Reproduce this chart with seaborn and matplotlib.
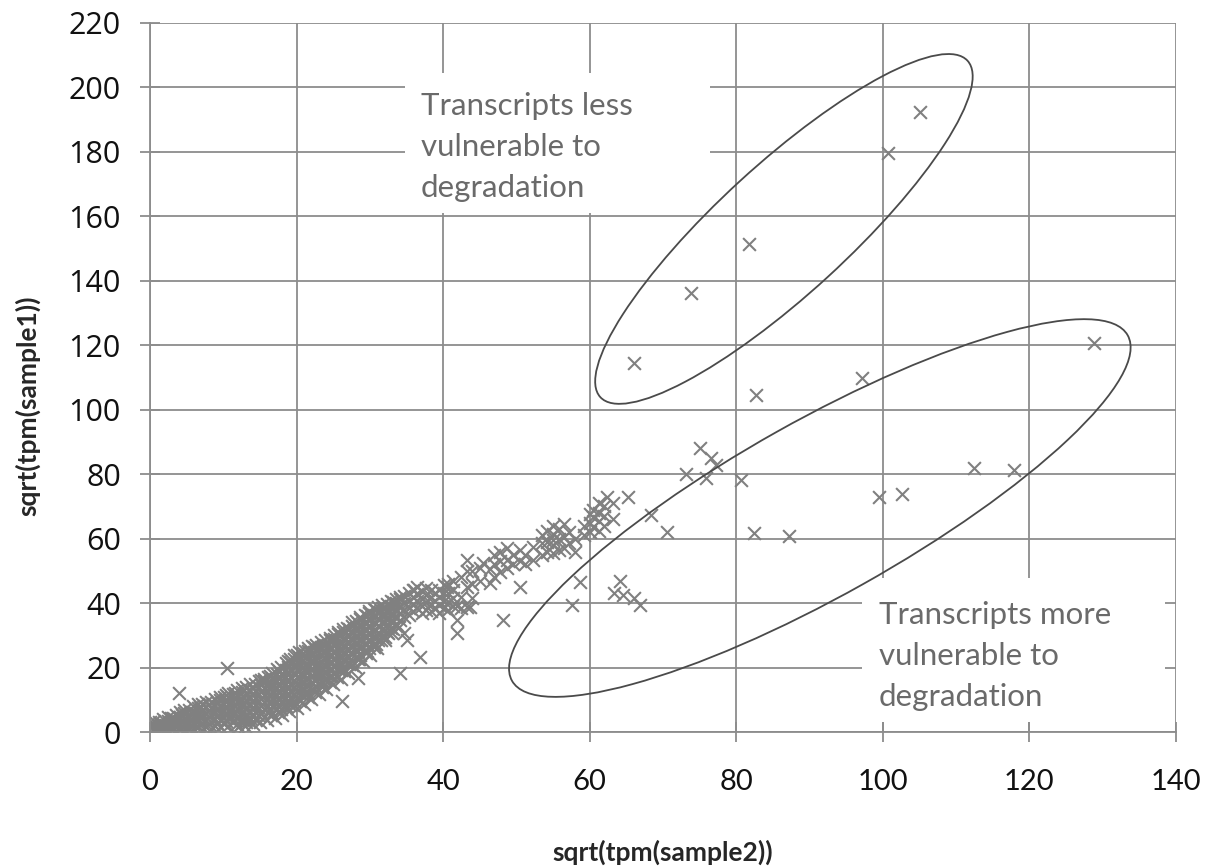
import numpy as np
import pandas as pd
import matplotlib
matplotlib.use('Agg')
from matplotlib import pyplot as plt
from matplotlib.patches import Ellipse, Rectangle
from matplotlib.transforms import ScaledTranslation
import seaborn as sns

# dense band of transcripts near the diagonal,
# one x position per column with the y values seen in that column
band_x = [0.0, 0.6, 1.2, 1.8, 2.4, 2.9, 3.5, 4.1, 4.7, 5.3, 5.9, 6.5, 7.1, 7.7, 8.3, 8.9,
          9.5, 10.1, 10.7, 11.3, 11.9, 12.5, 13.1, 13.7, 14.3, 14.9, 15.5, 16.1, 16.7, 17.3,
          17.9, 18.5, 19.1, 19.7, 20.3, 20.9, 21.5, 22.1, 22.7, 23.3, 23.9, 24.5, 25.1, 25.7,
          26.3, 26.9, 27.5, 28.1, 28.7, 29.3, 29.9, 30.5, 31.1, 31.7, 32.3, 32.9, 33.5, 34.1,
          34.7, 35.3, 35.9, 36.5, 37.1, 37.7, 38.3, 38.9, 39.5, 40.1, 40.7, 41.3]
band_y = [
    [0.0, 1.5, 3.0], [0.8, 2.3, 3.4], [0.0, 1.6, 3.2], [0.9, 2.5, 4.0],
    [0.2, 1.8, 3.4, 4.8], [1.0, 2.7, 4.3], [0.3, 2.0, 3.7, 5.4], [1.1, 2.9, 4.7, 6.3],
    [0.4, 2.2, 4.0, 5.8, 6.9], [1.2, 3.1, 5.0, 6.9], [0.5, 2.4, 4.3, 6.2, 8.0],
    [1.4, 3.4, 5.4, 7.4, 8.6], [0.7, 2.7, 4.7, 6.7, 8.7], [1.6, 3.7, 5.8, 7.9, 9.4],
    [1.0, 3.1, 5.2, 7.3, 9.4], [2.0, 4.1, 6.2, 8.3, 10.2], [1.5, 3.6, 5.7, 7.8, 9.9, 11.0],
    [2.5, 4.6, 6.7, 8.8, 10.9], [2.0, 4.2, 6.4, 8.6, 10.8, 12.2], [3.0, 5.2, 7.4, 9.6, 11.8],
    [2.6, 4.8, 7.0, 9.2, 11.4, 13.0], [3.6, 5.8, 8.0, 10.2, 12.4, 13.6],
    [3.2, 5.4, 7.6, 9.8, 12.0, 14.0], [4.3, 6.5, 8.7, 10.9, 13.1, 14.8],
    [4.0, 6.2, 8.4, 10.6, 12.8, 15.0], [5.1, 7.3, 9.5, 11.7, 13.9, 15.8],
    [4.8, 7.0, 9.2, 11.4, 13.6, 15.8, 16.6], [6.0, 8.2, 10.4, 12.6, 14.8, 17.0],
    [5.8, 8.0, 10.2, 12.4, 14.6, 16.8, 18.2], [7.0, 9.2, 11.4, 13.6, 15.8, 18.0, 19.5],
    [7.0, 9.2, 11.4, 13.6, 15.8, 18.0, 20.2], [8.2, 10.4, 12.6, 14.8, 17.0, 19.2, 21.4],
    [8.4, 10.6, 12.8, 15.0, 17.2, 19.4, 21.6, 22.8], [9.6, 11.8, 14.0, 16.2, 18.4, 20.6, 22.8, 24.0],
    [10.0, 12.2, 14.4, 16.6, 18.8, 21.0, 23.2, 24.8], [11.4, 13.6, 15.8, 18.0, 20.2, 22.4, 24.6],
    [12.0, 14.2, 16.4, 18.6, 20.8, 23.0, 25.2, 26.0], [13.4, 15.6, 17.8, 20.0, 22.2, 24.4, 26.6],
    [14.0, 16.2, 18.4, 20.6, 22.8, 25.0, 27.0], [15.4, 17.6, 19.8, 22.0, 24.2, 26.4, 27.8],
    [16.0, 18.2, 20.4, 22.6, 24.8, 27.0, 28.4], [17.4, 19.6, 21.8, 24.0, 26.2, 28.4, 29.2],
    [18.0, 20.2, 22.4, 24.6, 26.8, 29.0, 30.2], [19.4, 21.6, 23.8, 26.0, 28.2, 30.4, 31.0],
    [20.0, 22.2, 24.4, 26.6, 28.8, 31.0, 32.0], [21.4, 23.6, 25.8, 28.0, 30.2, 32.4],
    [22.0, 24.2, 26.4, 28.6, 30.8, 33.0, 34.0], [23.4, 25.6, 27.8, 30.0, 32.2, 34.4],
    [24.0, 26.2, 28.4, 30.6, 32.8, 35.0, 35.8], [25.4, 27.6, 29.8, 32.0, 34.2, 36.4],
    [26.0, 28.2, 30.4, 32.6, 34.8, 37.0, 37.6], [27.4, 29.6, 31.8, 34.0, 36.2, 38.2],
    [28.4, 30.6, 32.8, 35.0, 37.2, 38.8], [29.8, 32.0, 34.2, 36.4, 38.6, 39.4],
    [31.0, 33.2, 35.4, 37.6, 39.8], [32.4, 34.6, 36.8, 39.0, 40.6],
    [33.4, 35.6, 37.8, 40.0, 41.2], [34.6, 36.8, 39.0, 41.2, 42.0],
    [35.6, 37.8, 40.0, 42.2], [36.4, 38.6, 40.8, 43.0], [37.6, 39.8, 42.0, 44.0],
    [38.4, 40.6, 42.8, 45.0], [37.0, 39.2, 41.4, 43.6], [38.0, 40.2, 42.4, 44.6],
    [37.4, 39.6, 41.8, 44.0], [38.6, 40.8, 43.0], [37.0, 39.4, 41.8, 44.2],
    [38.4, 40.8, 43.2, 45.6], [37.8, 40.4, 43.0, 46.0], [39.0, 41.6, 44.2, 47.0],
]

# second pass over the densest stretch, between the columns above
fill_x = [1.5, 3.2, 4.4, 5.6, 6.8, 8.0, 9.2, 10.4, 11.6, 12.8, 14.0, 15.2, 16.4, 17.6,
          18.8, 20.0, 21.2, 22.4, 23.6, 24.8, 26.0, 27.2, 28.4, 29.6, 30.8, 32.0, 33.2]
fill_y = [
    [1.0, 2.6], [1.2, 2.9, 4.4], [1.6, 3.4, 5.2], [1.8, 3.8, 5.8], [2.1, 4.2, 6.3, 7.8],
    [2.4, 4.6, 6.8, 8.6], [2.8, 5.0, 7.2, 9.4], [3.4, 5.6, 7.8, 10.0, 11.4],
    [3.8, 6.0, 8.2, 10.4, 12.2], [4.4, 6.6, 8.8, 11.0, 13.0], [5.0, 7.2, 9.4, 11.6, 13.8],
    [5.8, 8.0, 10.2, 12.4, 14.6, 16.0], [6.8, 9.0, 11.2, 13.4, 15.6, 17.4],
    [7.8, 10.0, 12.2, 14.4, 16.6, 18.8], [9.2, 11.4, 13.6, 15.8, 18.0, 20.2, 22.0],
    [10.6, 12.8, 15.0, 17.2, 19.4, 21.6, 23.8], [12.2, 14.4, 16.6, 18.8, 21.0, 23.2, 25.0],
    [13.8, 16.0, 18.2, 20.4, 22.6, 24.8, 26.4], [15.6, 17.8, 20.0, 22.2, 24.4, 26.6],
    [17.4, 19.6, 21.8, 24.0, 26.2, 28.4], [19.2, 21.4, 23.6, 25.8, 28.0, 30.2],
    [21.0, 23.2, 25.4, 27.6, 29.8, 32.0], [22.8, 25.0, 27.2, 29.4, 31.6, 33.8],
    [25.0, 27.2, 29.4, 31.6, 33.8, 36.0], [27.2, 29.4, 31.6, 33.8, 36.0, 37.8],
    [29.6, 31.8, 34.0, 36.2, 38.4], [32.0, 34.2, 36.4, 38.6, 40.2],
]

# lower rim of the band, which hangs a little lower than the columns above
rim_x = [12.0, 12.5, 13.0, 13.5, 14.0, 14.5, 15.0, 15.5, 16.0, 16.5, 17.0, 17.5, 18.0, 18.5,
         19.0, 19.5, 20.0, 20.5, 21.0, 21.5, 22.0, 22.5, 23.0, 23.5, 24.0, 24.5, 25.0, 25.5,
         26.0, 26.5, 27.0, 27.5, 28.0, 28.5, 29.0, 29.5, 30.0, 30.5, 31.0, 31.5, 32.0, 32.5,
         33.0, 33.5, 34.0]
rim_y = [1.5, 2.9, 2.0, 3.5, 2.6, 4.0, 3.0, 4.6, 3.6, 5.4, 4.4, 6.3, 5.4, 7.3,
         6.4, 8.4, 7.4, 9.6, 8.8, 11.0, 10.2, 12.4, 11.8, 14.0, 13.4, 15.6, 15.0, 17.2,
         16.6, 18.9, 18.4, 20.7, 20.2, 22.5, 22.0, 24.4, 24.0, 26.4, 26.0, 28.6, 28.4, 30.8,
         30.6, 32.8, 32.6]

# single points sticking out above the band
spike_pts = [(4.0, 12.0), (10.5, 20.0), (36.0, 44.0), (40.5, 45.0)]

# sparser tail of the band and its clusters
tail_pts = [
    (41.9, 30.6), (41.9, 34.7), (41.9, 39.0), (42.5, 38.5), (42.5, 42.0), (42.5, 48.0),
    (43.2, 38.8), (43.2, 45.0), (43.2, 50.0), (43.2, 53.4), (43.7, 38.8), (44.0, 41.5), (44.0, 46.0), (44.0, 50.0),
    (45.0, 47.0), (45.0, 51.0), (45.5, 52.4), (46.4, 46.2), (46.4, 50.5),
    (47.0, 48.0), (47.0, 52.0), (47.0, 55.0), (47.8, 49.5), (47.8, 53.0), (47.8, 56.0),
    (48.7, 51.0), (48.7, 53.4), (48.7, 57.0), (49.5, 52.0), (49.5, 55.0),
    (50.5, 53.0), (50.5, 56.5), (51.2, 52.0), (51.2, 55.0), (52.3, 53.4), (52.3, 57.5),
    (53.5, 55.0), (53.5, 58.5), (53.5, 61.0), (54.2, 56.0), (54.2, 59.0), (54.2, 62.5),
    (55.0, 55.5), (55.0, 58.0), (55.0, 59.6), (55.0, 61.5), (55.0, 64.0),
    (55.8, 56.5), (55.8, 60.0), (55.8, 63.0), (56.5, 57.0), (56.5, 60.5), (56.5, 64.5),
    (57.2, 58.5), (57.2, 62.0), (58.0, 56.0), (58.0, 60.0), (59.2, 61.0), (59.2, 64.0),
    (60.0, 62.0), (60.0, 65.0), (60.0, 67.5), (60.5, 63.5), (60.5, 66.7), (60.5, 69.0),
    (61.2, 62.5), (61.2, 65.5), (61.2, 68.0), (61.2, 71.0), (62.0, 64.0), (62.0, 67.0), (62.0, 70.0),
    (62.3, 73.0), (63.2, 71.0), (63.2, 66.0), (65.2, 72.9), (68.3, 67.3), (70.5, 62.0),
    (34.0, 38.8), (34.6, 30.6),
]

# points lying below the band
low_pts = [
    (26.2, 9.6), (28.4, 16.7), (34.1, 18.3), (36.8, 23.3), (35.0, 28.5),
    (48.2, 34.7), (50.5, 45.0), (57.6, 39.4), (58.7, 46.6),
    (64.2, 47.0), (63.3, 43.0), (64.5, 42.5), (66.0, 41.5), (66.8, 39.4),
]

# "more vulnerable" group
lower_group = [
    (75.0, 88.0), (76.5, 84.9), (77.2, 82.8), (73.1, 80.2), (75.8, 78.7), (80.6, 78.2),
    (112.5, 81.8), (117.9, 81.3), (99.5, 73.0), (102.6, 73.7), (82.4, 61.9), (87.2, 60.8),
    (82.7, 104.6), (97.2, 109.7), (128.8, 120.8),
]

# "less vulnerable" group
upper_group = [
    (66.1, 114.6), (73.8, 136.1), (81.8, 151.3), (100.7, 179.6), (105.0, 192.5),
]

band_pts = [(x, y) for x, ys in zip(band_x, band_y) for y in ys]
band_pts += [(x, y) for x, ys in zip(fill_x, fill_y) for y in ys]
band_pts += list(zip(rim_x, rim_y))
all_pts = band_pts + spike_pts + tail_pts + low_pts + lower_group + upper_group
df = pd.DataFrame(all_pts, columns=['sample2', 'sample1'])

x_ticks = list(range(0, 141, 20))
y_ticks = list(range(0, 221, 20))

GRID = '#8c8c8c'
MARK = '#808080'

sns.set_style('whitegrid', {'grid.color': GRID, 'axes.edgecolor': GRID})
plt.rcParams['font.family'] = ['Lato', 'DejaVu Sans']

fig = plt.figure(figsize=(12.09, 8.66), dpi=100)
ax = fig.add_axes([150 / 1209, (866 - 732) / 866, (1176 - 150) / 1209, (732 - 23) / 866])

sns.scatterplot(data=df, x='sample2', y='sample1', marker='x', color=MARK,
                s=85, linewidth=1.5, ax=ax, legend=False, zorder=2)

ax.set_xlim(0, 140)
ax.set_ylim(0, 220)
ax.set_xticks(x_ticks)
ax.set_yticks(y_ticks)
ax.grid(True, color=GRID, linewidth=1.3)
ax.set_axisbelow(True)
for side in ['top', 'right']:
    ax.spines[side].set_visible(False)
for side in ['left', 'bottom']:
    ax.spines[side].set_color(GRID)
    ax.spines[side].set_linewidth(1.3)

ax.tick_params(axis='both', direction='inout', length=14, width=1.3, color=GRID,
               left=True, bottom=True)
ax.tick_params(axis='x', pad=20, labelsize=21, labelcolor='#111111')
ax.tick_params(axis='y', pad=14, labelsize=22, labelcolor='#111111')
for lab in ax.get_yticklabels():
    lab.set_fontfamily('Open Sans')

ax.set_xlabel('sqrt(tpm(sample2))', fontsize=19, fontweight='bold', labelpad=32)
ax.set_ylabel('sqrt(tpm(sample1))', fontsize=19, fontweight='bold', labelpad=20)
ax.yaxis.label.set_y(0.46)

# white text boxes hiding the grid
W, H = 1209, 866
for (x0, y0, x1, y1) in [(405, 73, 710, 213), (862, 578, 1165, 722)]:
    ax.add_patch(Rectangle((x0 / W, 1 - y1 / H), (x1 - x0) / W, (y1 - y0) / H,
                           transform=fig.transFigure, facecolor='white',
                           edgecolor='none', zorder=1.5, clip_on=False))

# ellipses (size in pixels, centred on data coordinates)
for (cx, cy, a, b, ang) in [(86.5, 156.1, 249, 65, 42.5), (91.4, 69.5, 353, 87.5, 29.3)]:
    tr = fig.dpi_scale_trans + ScaledTranslation(cx, cy, ax.transData)
    ax.add_patch(Ellipse((0, 0), 2 * a / 100, 2 * b / 100, angle=ang, transform=tr,
                         fill=False, edgecolor='#4a4a4a', linewidth=1.3, zorder=3))

TXT = '#6a6a6a'
fig.text(421 / W, 1 - 92 / H, 'Transcripts less\nvulnerable to\ndegradation',
         fontsize=22.5, color=TXT, va='top', ha='left', linespacing=1.57, zorder=4)
fig.text(879 / W, 1 - 601 / H, 'Transcripts more\nvulnerable to\ndegradation',
         fontsize=22.5, color=TXT, va='top', ha='left', linespacing=1.57, zorder=4)

fig.savefig('out.png', dpi=100)
